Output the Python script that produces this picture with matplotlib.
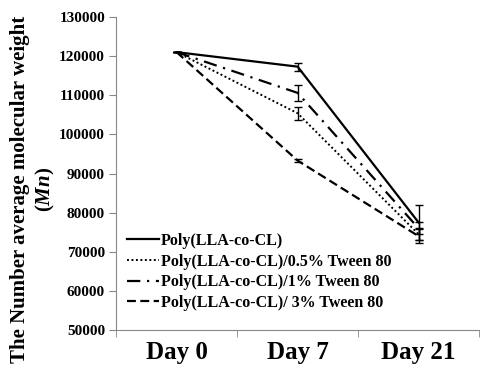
import matplotlib
matplotlib.use("Agg")
import matplotlib.pyplot as plt
import numpy as np
from matplotlib.lines import Line2D

days = ["Day 0", "Day 7", "Day 21"]
labels = ["Poly(LLA-co-CL)", "Poly(LLA-co-CL)/0.5% Tween 80",
          "Poly(LLA-co-CL)/1% Tween 80", "Poly(LLA-co-CL)/ 3% Tween 80"]
mn_pure = [121000, 117300, 77500]
mn_05 = [121000, 105400, 74500]
mn_1 = [121000, 110600, 76000]
mn_3 = [121000, 93300, 74000]
err_pure = [0, 1000, 4500]
err_05 = [0, 1700, 1500]
err_1 = [0, 2100, 1500]
err_3 = [0, 300, 1800]
yticks = [50000, 60000, 70000, 80000, 90000, 100000, 110000, 120000, 130000]

plt.rcParams['font.family'] = ['Liberation Serif', 'DejaVu Serif']
plt.rcParams['font.weight'] = 'bold'
plt.rcParams['mathtext.fontset'] = 'custom'
plt.rcParams['mathtext.it'] = 'Liberation Serif:italic:bold'
plt.rcParams['mathtext.rm'] = 'Liberation Serif:bold'

fig = plt.figure(figsize=(4.8, 3.68), dpi=100)
ax = fig.add_axes([0.242, 0.103, 0.756, 0.851])

x = np.arange(len(days))
series = [(mn_pure, err_pure, '-', 1.6),
          (mn_05, err_05, (0, (1, 1.3)), 1.4),
          (mn_1, err_1, (0, (6, 3, 1, 3)), 1.6),
          (mn_3, err_3, (0, (4, 2)), 1.6)]
for (vals, errs, ls, lw), lab in zip(series, labels):
    ax.errorbar(x, vals, yerr=errs, color='black', linestyle=ls, linewidth=lw,
                elinewidth=1.0, capsize=3, capthick=1.0, label=lab)

ax.set_xlim(-0.5, 2.5)
ax.set_ylim(50000, 130000)
ax.set_yticks(yticks)
ax.set_yticklabels([str(v) for v in yticks], fontsize=11, fontweight='bold')
ax.set_xticks(x)
ax.set_xticklabels(days, fontsize=18, fontweight='bold')
ax.tick_params(axis='x', length=0, pad=8)
ax.set_xticks([-0.5, 0.5, 1.5, 2.5], minor=True)
ax.tick_params(axis='x', which='minor', length=5, color='#888888', direction='out')
ax.tick_params(axis='y', length=5, color='#888888', direction='out', pad=3)
for s in ['top', 'right']:
    ax.spines[s].set_visible(False)
for s in ['left', 'bottom']:
    ax.spines[s].set_color('#888888')
    ax.spines[s].set_linewidth(0.8)

ax.set_ylabel("The Number average molecular weight\n($Mn$)",
              fontsize=15, fontweight='bold', linespacing=1.25)
ax.yaxis.set_label_coords(-0.163, 0.45)

handles = [Line2D([], [], color='black', linestyle=s[2], linewidth=s[3]) for s in series]
leg = ax.legend(handles, labels, loc='lower left', bbox_to_anchor=(0.0, 0.025),
                frameon=False, handlelength=2.0, handletextpad=0.1,
                labelspacing=0.3, borderaxespad=0.3, prop={'weight': 'bold', 'size': 11.5})

fig.savefig("out.png", dpi=100)
